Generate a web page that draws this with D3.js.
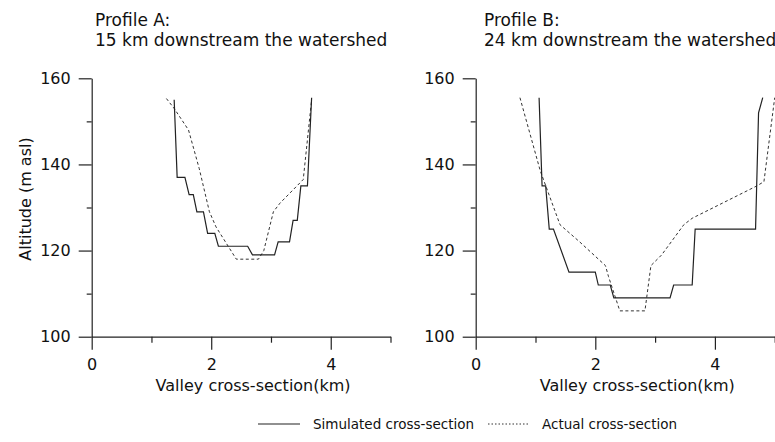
<!DOCTYPE html>
<html>
<head>
<meta charset="utf-8">
<script src="https://cdn.jsdelivr.net/npm/d3@7"></script>
<style>
  body { margin: 0; background: #fff; }
  svg text { font-family: "DejaVu Sans", sans-serif; fill: #111; }
</style>
</head>
<body>
<div id="chart"></div>
<script>
let w = 775;
let h = 442;

// Profile A: 15 km downstream the watershed
let simA = [[1.38,155],[1.43,137],[1.56,137],[1.63,133],[1.70,133],[1.76,129],[1.87,129],[1.94,124],[2.06,124],
    [2.12,121],[2.61,121],[2.69,119],[3.06,119],[3.12,122],[3.31,122],[3.37,127],[3.44,127],[3.50,135],[3.61,135],[3.68,155.5]];
let actA = [[1.25,155.3],[1.38,153],[1.62,148],[1.80,139],[1.97,129],[2.08,125.5],[2.42,118],[2.79,118],[2.88,120],
    [3.04,129],[3.15,131],[3.54,136.5],[3.68,155]];

// Profile B: 24 km downstream the watershed
let simB = [[1.06,155.5],[1.11,135],[1.17,135],[1.23,125],[1.30,125],[1.56,115],[2.00,115],[2.05,112],[2.25,112],
    [2.31,109],[3.25,109],[3.31,112],[3.62,112],[3.67,125],[4.68,125],[4.73,152],[4.80,155.5]];
let actB = [[0.74,155.5],[1.08,138.5],[1.41,126],[1.74,122],[2.17,116.5],[2.22,114],[2.41,106],[2.83,106],[2.93,116.5],
    [3.11,119],[3.48,126],[3.62,127.5],[4.70,135],[4.82,136],[5.0,155.5]];

let yMajor = [100, 120, 140, 160];
let yMinor = [110, 130, 150];
let xMajor = [0, 2, 4];
let xMinor = [1, 3, 5];

let svg = d3.select("#chart")
    .append("svg")
    .attr("width", w)
    .attr("height", h);

let panels = [
    {x0: 91.7, x1: 390.5, title1: "Profile A:", title2: "15 km downstream the watershed", tx: 95, sim: simA, act: actA, ylabel: true},
    {x0: 475.7, x1: 774.7, title1: "Profile B:", title2: "24 km downstream the watershed", tx: 484, sim: simB, act: actB, ylabel: false}
];

let yScale = d3.scaleLinear().domain([100, 160]).range([336.7, 78.3]);

panels.forEach(function(p) {
    let xScale = d3.scaleLinear().domain([0, 5]).range([p.x0, p.x1]);
    let g = svg.append("g");

    // y axis: major + minor ticks
    g.append("g")
        .attr("transform", "translate(" + p.x0 + ",0)")
        .call(d3.axisLeft(yScale).tickValues(yMajor).tickSize(13).tickSizeOuter(0).tickPadding(8).tickFormat(d3.format("d")));
    g.append("g")
        .attr("transform", "translate(" + p.x0 + ",0)")
        .call(d3.axisLeft(yScale).tickValues(yMinor).tickSize(5).tickFormat("").tickSizeOuter(0))
        .select(".domain").remove();

    // x axis
    g.append("g")
        .attr("transform", "translate(0," + yScale(100) + ")")
        .call(d3.axisBottom(xScale).tickValues(xMajor).tickSize(13).tickSizeOuter(0).tickPadding(9).tickFormat(d3.format("d")));
    g.append("g")
        .attr("transform", "translate(0," + yScale(100) + ")")
        .call(d3.axisBottom(xScale).tickValues(xMinor).tickSize(6).tickFormat("").tickSizeOuter(0))
        .select(".domain").remove();

    g.selectAll(".domain, .tick line").attr("stroke", "#222").attr("stroke-width", 1.2);
    g.selectAll(".tick text").style("font-size", "16px").attr("fill", "#111");

    // lines
    let line = d3.line()
        .x(d => xScale(d[0]))
        .y(d => yScale(d[1]));

    g.append("path")
        .datum(p.act)
        .attr("d", line)
        .attr("fill", "none")
        .attr("stroke", "#333")
        .attr("stroke-width", 1)
        .attr("stroke-dasharray", "3,2.5");

    g.append("path")
        .datum(p.sim)
        .attr("d", line)
        .attr("fill", "none")
        .attr("stroke", "#222")
        .attr("stroke-width", 1.2);

    // titles
    svg.append("text").attr("x", p.tx).attr("y", 26).style("font-size", "17px").text(p.title1);
    svg.append("text").attr("x", p.tx).attr("y", 46).style("font-size", "17px").text(p.title2);

    // x label
    svg.append("text")
        .attr("x", (p.x0 + p.x1) / 2 + 12)
        .attr("y", 391)
        .attr("text-anchor", "middle")
        .style("font-size", "16px")
        .text("Valley cross-section(km)");

    if (p.ylabel) {
        svg.append("text")
            .attr("transform", "translate(31,199) rotate(-90)")
            .attr("text-anchor", "middle")
            .style("font-size", "16px")
            .text("Altitude (m asl)");
    }
});

// legend
let leg = svg.append("g");
leg.append("line")
    .attr("x1", 258).attr("x2", 300).attr("y1", 424).attr("y2", 424)
    .attr("stroke", "#222").attr("stroke-width", 1.2);
leg.append("text").attr("x", 313).attr("y", 429).style("font-size", "13.5px").text("Simulated cross-section");
leg.append("line")
    .attr("x1", 488).attr("x2", 530).attr("y1", 424).attr("y2", 424)
    .attr("stroke", "#333").attr("stroke-width", 1).attr("stroke-dasharray", "1.5,2");
leg.append("text").attr("x", 542).attr("y", 429).style("font-size", "13.5px").text("Actual cross-section");
</script>
</body>
</html>
